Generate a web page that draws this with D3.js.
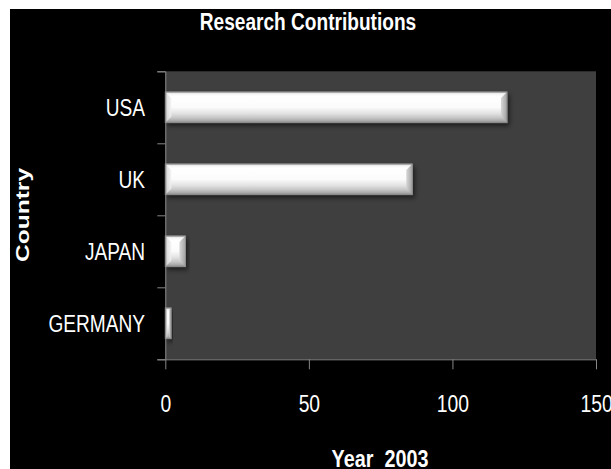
<!DOCTYPE html>
<html>
<head>
<meta charset="utf-8">
<script src="https://cdn.jsdelivr.net/npm/d3@7"></script>
<style>
  html, body { margin: 0; padding: 0; background: #ffffff; }
  svg { display: block; }
  text { font-family: "Liberation Sans", Arial, sans-serif; fill: #ffffff; }
</style>
</head>
<body>
<svg id="chart" width="611" height="469"></svg>
<script>
// Research contributions by country, year 2003
const categories = ["USA", "UK", "JAPAN", "GERMANY"];
const values = [119, 86, 7, 2];
const xTicks = [0, 50, 100, 150];
const chartTitle = "Research Contributions";
const xTitle = "Year  2003";
const yTitle = "Country";

const W = 611, H = 469;
const plot = { left: 165.3, right: 596, top: 71.3, bottom: 359.3 };
const FONT = "Liberation Sans, Arial, sans-serif";

const svg = d3.select("#chart");

// narrow the text horizontally (condensed look)
function condense(sel, k) {
  sel.each(function () {
    const w = this.getComputedTextLength();
    d3.select(this).attr("textLength", w * k).attr("lengthAdjust", "spacingAndGlyphs");
  });
}

// black chart canvas with a thin white margin on the top and left
svg.append("rect").attr("x", 10).attr("y", 9).attr("width", W - 10).attr("height", H - 9).attr("fill", "#000000");

const defs = svg.append("defs");

// vertical shading for the bar body
const gBody = defs.append("linearGradient").attr("id", "barBody")
  .attr("x1", 0).attr("y1", 0).attr("x2", 0).attr("y2", 1);
[[0, "#c8c8c8"], [0.06, "#f4f4f4"], [0.14, "#ffffff"], [0.5, "#fbfbfb"],
 [0.7, "#e2e2e2"], [0.85, "#c4c4c4"], [0.94, "#a8a8a8"], [1, "#8a8a8a"]]
  .forEach(([o, c]) => gBody.append("stop").attr("offset", o).attr("stop-color", c));

// end chamfers
const gLeft = defs.append("linearGradient").attr("id", "bevelLeft")
  .attr("x1", 0).attr("y1", 0).attr("x2", 1).attr("y2", 0);
gLeft.append("stop").attr("offset", 0).attr("stop-color", "#d0d0d0");
gLeft.append("stop").attr("offset", 1).attr("stop-color", "#f2f2f2");
const gRight = defs.append("linearGradient").attr("id", "bevelRight")
  .attr("x1", 0).attr("y1", 0).attr("x2", 1).attr("y2", 0);
gRight.append("stop").attr("offset", 0).attr("stop-color", "#d4d4d4");
gRight.append("stop").attr("offset", 1).attr("stop-color", "#9a9a9a");

const shadow = defs.append("filter").attr("id", "shadow")
  .attr("x", "-10%").attr("y", "-30%").attr("width", "130%").attr("height", "180%");
shadow.append("feDropShadow").attr("dx", 2).attr("dy", 3).attr("stdDeviation", 2.5)
  .attr("flood-color", "#000000").attr("flood-opacity", 0.55);

// plot area
svg.append("rect")
  .attr("x", plot.left).attr("y", plot.top)
  .attr("width", plot.right - plot.left).attr("height", plot.bottom - plot.top)
  .attr("fill", "#3f3f3f");

const x = d3.scaleLinear().domain([0, 150]).range([plot.left, plot.right]);
const y = d3.scaleBand().domain(categories).range([plot.top, plot.bottom])
  .paddingInner(0.574).paddingOuter(0.287);
const yEdges = d3.scaleLinear().domain([0, categories.length]).range([plot.bottom, plot.top]);

// bars
const bars = svg.append("g").selectAll("g.bar")
  .data(categories.map((c, i) => ({ c, v: values[i] })))
  .join("g").attr("class", "bar");

bars.append("rect")
  .attr("x", x(0)).attr("y", d => y(d.c))
  .attr("width", d => x(d.v) - x(0)).attr("height", y.bandwidth())
  .attr("fill", "url(#barBody)")
  .attr("stroke", "#8c8c8c").attr("stroke-width", 0.8)
  .attr("filter", "url(#shadow)");

bars.each(function (d) {
  const g = d3.select(this);
  const x0 = x(0), x1 = x(d.v), y0 = y(d.c), y1 = y0 + y.bandwidth();
  const b = Math.min(6, (x1 - x0) / 3);
  g.append("path")
    .attr("d", `M${x0},${y0} L${x0 + b},${y0 + b} L${x0 + b},${y1 - b} L${x0},${y1} Z`)
    .attr("fill", "url(#bevelLeft)").attr("opacity", 0.85);
  g.append("path")
    .attr("d", `M${x1},${y0} L${x1 - b},${y0 + b} L${x1 - b},${y1 - b} L${x1},${y1} Z`)
    .attr("fill", "url(#bevelRight)").attr("opacity", 0.9);
  g.append("rect")
    .attr("x", x0).attr("y", y0).attr("width", x1 - x0).attr("height", y1 - y0)
    .attr("fill", "none").attr("stroke", "#8c8c8c").attr("stroke-width", 0.8);
});

// y axis: line and ticks at category boundaries
const yAxisG = svg.append("g").attr("transform", `translate(${plot.left},0)`)
  .call(d3.axisLeft(yEdges).ticks(categories.length).tickSize(8).tickFormat(""));
yAxisG.selectAll("path, line").attr("stroke", "#868686");

// category labels
svg.append("g").selectAll("text.cat")
  .data(categories).join("text").attr("class", "cat")
  .attr("x", 145).attr("y", d => y(d) + y.bandwidth() / 2 + 8.5)
  .attr("text-anchor", "end").attr("font-size", 23)
  .text(d => d)
  .call(condense, 0.83);

// x axis
const xAxisG = svg.append("g").attr("transform", `translate(0,${plot.bottom})`)
  .call(d3.axisBottom(x).tickValues(xTicks).tickSize(10).tickSizeOuter(0).tickPadding(26));
xAxisG.selectAll("path, line").attr("stroke", "#868686");
xAxisG.selectAll("text").attr("font-size", 23).attr("fill", "#ffffff").attr("font-family", FONT)
  .attr("dy", "0.72em").call(condense, 0.84);

// titles
svg.append("text").attr("x", 308).attr("y", 30).attr("text-anchor", "middle")
  .attr("font-size", 23).attr("font-weight", "bold").text(chartTitle)
  .call(condense, 0.83);
svg.append("text").attr("x", 380).attr("y", 467).attr("text-anchor", "middle")
  .attr("font-size", 23).attr("font-weight", "bold").style("white-space", "pre").text(xTitle)
  .call(condense, 0.86);
svg.append("text").attr("transform", "translate(29,215) rotate(-90)").attr("text-anchor", "middle")
  .attr("font-size", 19).attr("font-weight", "bold").text(yTitle)
  .attr("textLength", 94).attr("lengthAdjust", "spacingAndGlyphs");
</script>
</body>
</html>
